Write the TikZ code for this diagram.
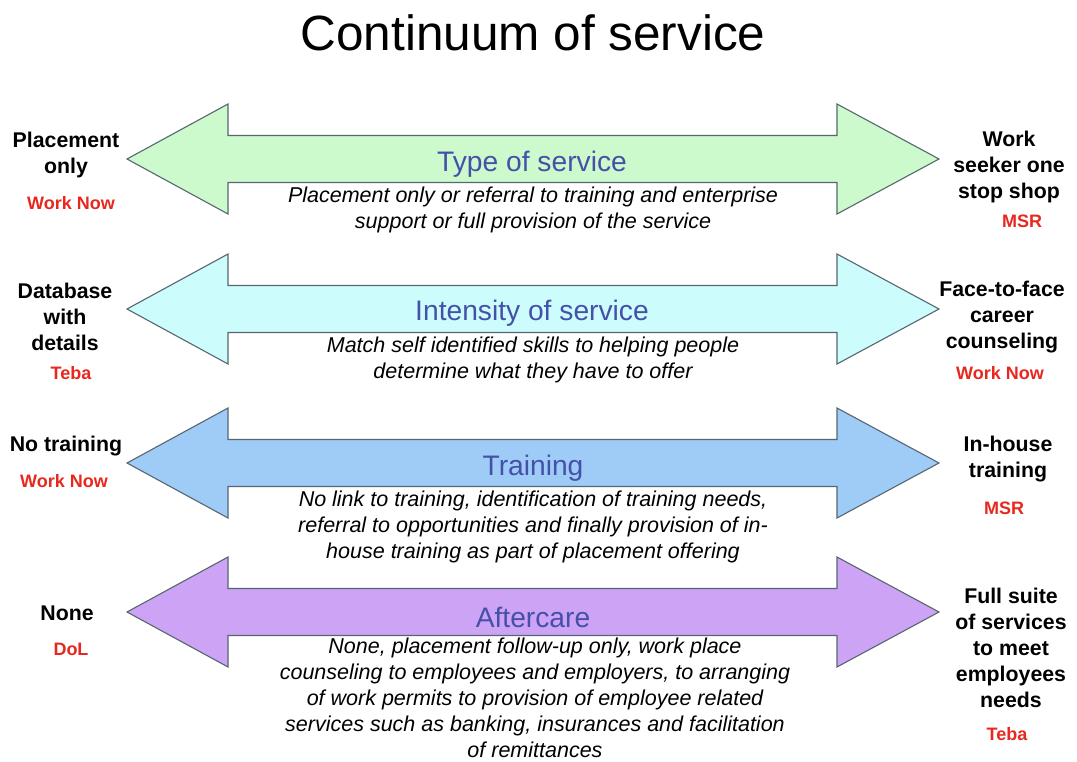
\documentclass[tikz,border=0pt]{standalone}
\usepackage{fontspec}
\setmainfont{Liberation Sans}
\definecolor{arrline}{HTML}{566770}
\definecolor{fgreen}{HTML}{CCFACC}
\definecolor{fcyan}{HTML}{CCFCFC}
\definecolor{fblue}{HTML}{9FCBF7}
\definecolor{fpurple}{HTML}{CDA3F5}
\definecolor{headblue}{HTML}{4550A8}
\definecolor{labred}{HTML}{E8281E}
\tikzset{
  bigarrow/.style={draw=arrline, line width=1.1pt, line join=miter},
  heading/.style={text=headblue, font=\fontsize{28.2}{33}\selectfont, inner sep=0pt},
  desc/.style={align=center, font=\fontsize{21.5}{26}\selectfont\itshape, inner sep=0pt},
  lab/.style={align=center, font=\fontsize{21.3}{26}\selectfont\bfseries, inner sep=0pt},
  redlab/.style={text=labred, font=\fontsize{18}{22}\selectfont\bfseries, inner sep=0pt},
}
\newcommand{\dblarrow}[2]{%
  \path[bigarrow, fill=#2] (127,#1) -- (228,#1-55) -- (228,#1-23.5) -- (837,#1-23.5)
    -- (837,#1-55) -- (939,#1) -- (837,#1+55) -- (837,#1+23.5) -- (228,#1+23.5)
    -- (228,#1+55) -- cycle;}
\begin{document}
\begin{tikzpicture}[x=1pt,y=-1pt]
\useasboundingbox (0,0) rectangle (1077,762);
\fill[white] (0,0) rectangle (1077,762);
\node[font=\fontsize{49.5}{56}\selectfont, inner sep=0pt] (title) at (533,33) {Continuum of service};

\dblarrow{159}{fgreen}
\dblarrow{309}{fcyan}
\dblarrow{463}{fblue}
\dblarrow{612}{fpurple}

\node[heading] (h1) at (532,164) {Type of service};
\node[heading] (h2) at (532,313) {Intensity of service};
\node[heading] (h3) at (533,468) {Training};
\node[heading] (h4) at (533,617) {Aftercare};

\node[desc] (d1) at (533,210) {Placement only or referral to training and enterprise\\support or full provision of the service};
\node[desc] (d2) at (533,360) {Match self identified skills to helping people\\determine what they have to offer};
\node[desc] (d3) at (533,526.5) {No link to training, identification of training needs,\\referral to opportunities and finally provision of in-\\house training as part of placement offering};
\node[desc] (d4) at (535,697.5) {None, placement follow-up only, work place\\counseling to employees and employers, to arranging\\of work permits to provision of employee related\\services such as banking, insurances and facilitation\\of remittances};

\node[lab] (l1) at (66,154.5) {Placement\\only};
\node[redlab] (r1) at (71,203) {Work Now};
\node[lab] (l2) at (65,317) {Database\\with\\details};
\node[redlab] (r2) at (71,373) {Teba};
\node[lab] (l3) at (66,446) {No training};
\node[redlab] (r3) at (64,481) {Work Now};
\node[lab] (l4) at (67,613) {None};
\node[redlab] (r4) at (71,649) {DoL};

\node[lab] (rl1) at (1009,167) {Work\\seeker one\\stop shop};
\node[redlab] (rr1) at (1022,221) {MSR};
\node[lab] (rl2) at (1002,317) {Face-to-face\\career\\counseling};
\node[redlab] (rr2) at (1000,373) {Work Now};
\node[lab] (rl3) at (1008,459) {In-house\\training};
\node[redlab] (rr3) at (1004,508) {MSR};
\node[lab] (rl4) at (1011,648) {Full suite\\of services\\to meet\\employees\\needs};
\node[redlab] (rr4) at (1007,734) {Teba};
\end{tikzpicture}
\end{document}
